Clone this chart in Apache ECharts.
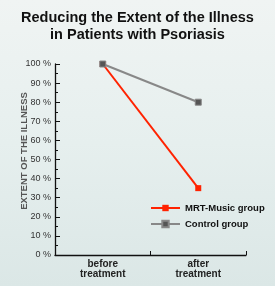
<!DOCTYPE html>
<html><head><meta charset="utf-8">
<script src="https://cdn.jsdelivr.net/npm/echarts@6/dist/echarts.min.js"></script>
<style>html,body{margin:0;padding:0;}#c{width:275px;height:286px;background:linear-gradient(180deg,#f0f4f3 0%,#e6efee 50%,#dbe7e6 100%);}</style>
</head><body><div id="c"></div>
<script>
const categories = ['before\ntreatment', 'after\ntreatment'];
const mrtMusic = [100, 35];
const control = [100, 80];
const seriesNames = ['MRT-Music group', 'Control group'];
const yAxisName = 'EXTENT OF THE ILLNESS';

const chart = echarts.init(document.getElementById('c'), null, {renderer: 'canvas'});
chart.setOption({
  backgroundColor: 'transparent',
  animation: false,
  title: {
    text: 'Reducing the Extent of the Illness\nin Patients with Psoriasis',
    left: 'center', top: 4,
    textStyle: {fontFamily: 'Liberation Sans', fontWeight: 'bold', fontSize: 14.5, lineHeight: 17, color: '#111'}
  },
  legend: {
    orient: 'vertical', left: 150, top: 203, padding: 0,
    itemWidth: 29, itemHeight: 8, itemGap: 6,
    textStyle: {fontFamily: 'Liberation Sans', fontWeight: 'bold', fontSize: 9.5, color: '#111'},
    data: seriesNames
  },
  graphic: [{
    type: 'text', x: 24, y: 151, rotation: Math.PI / 2,
    style: {text: yAxisName, fontFamily: 'Liberation Sans', fontWeight: 'bold', fontSize: 9.5,
            fill: '#555', align: 'center', verticalAlign: 'middle'}
  }],
  grid: {left: 55, right: 29, top: 64, bottom: 31, containLabel: false},
  xAxis: {
    type: 'category', data: categories, boundaryGap: true,
    axisLine: {lineStyle: {color: '#111', width: 1.3}},
    axisTick: {show: true, inside: true, length: 4, lineStyle: {color: '#111'}},
    axisLabel: {fontFamily: 'Liberation Sans', fontWeight: 'bold', fontSize: 10, lineHeight: 10, color: '#222', margin: 4}
  },
  yAxis: {
    type: 'value', min: 0, max: 100, interval: 10,
    axisLine: {show: true, lineStyle: {color: '#111', width: 1.3}},
    axisTick: {show: true, inside: true, length: 5, lineStyle: {color: '#111'}},
    minorTick: {show: true, splitNumber: 2, length: 3, lineStyle: {color: '#111'}},
    splitLine: {show: false},
    axisLabel: {formatter: '{value} %', fontFamily: 'Liberation Sans', fontSize: 9, color: '#333', margin: 4}
  },
  series: [
    {name: seriesNames[0], type: 'line', data: mrtMusic, symbol: 'rect', symbolSize: 6,
     lineStyle: {color: '#ff2200', width: 2}, itemStyle: {color: '#ff2200'}},
    {name: seriesNames[1], type: 'line', data: control, symbol: 'rect', symbolSize: 6,
     lineStyle: {color: '#888', width: 2}, itemStyle: {color: '#555', borderColor: '#888', borderWidth: 1}}
  ]
});
</script></body></html>
